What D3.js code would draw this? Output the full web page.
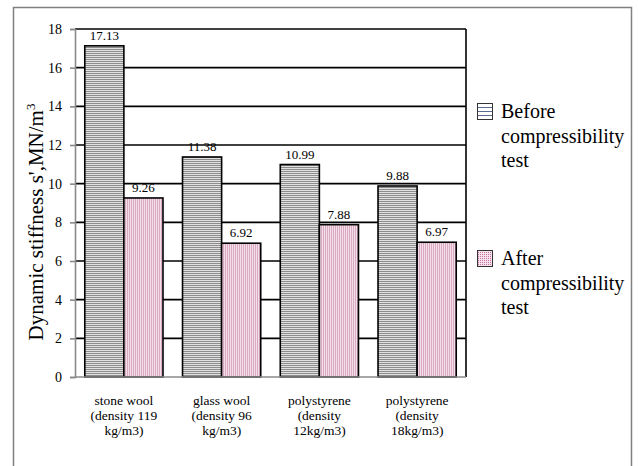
<!DOCTYPE html>
<html><head><meta charset="utf-8">
<script src="https://cdn.jsdelivr.net/npm/d3@7"></script>
<style>body{margin:0;background:#fff}svg{display:block}
svg text{font-family:"Liberation Serif","Times New Roman",Tinos,"DejaVu Serif",serif;}</style>
</head><body>
<script>
const categories = [
  ["stone wool", "(density 119", "kg/m3)"],
  ["glass wool", "(density 96", "kg/m3)"],
  ["polystyrene", "(density", "12kg/m3)"],
  ["polystyrene", "(density", "18kg/m3)"]
];
const beforeValues = [17.13, 11.38, 10.99, 9.88];
const afterValues = [9.26, 6.92, 7.88, 6.97];
const seriesNames = [["Before", "compressibility", "test"], ["After", "compressibility", "test"]];
const yTicks = [0, 2, 4, 6, 8, 10, 12, 14, 16, 18];

const W = 638, H = 466;
const svg = d3.select("body").append("svg").attr("width", W).attr("height", H);

const defs = svg.append("defs");
const p1 = defs.append("pattern").attr("id", "pBefore").attr("patternUnits", "userSpaceOnUse").attr("width", 4).attr("height", 2);
p1.append("rect").attr("width", 4).attr("height", 2).attr("fill", "#e2e2e2");
p1.append("rect").attr("y", 1).attr("width", 4).attr("height", 1).attr("fill", "#8c8c8c");
const p2 = defs.append("pattern").attr("id", "pAfter").attr("patternUnits", "userSpaceOnUse").attr("width", 2).attr("height", 4);
p2.append("rect").attr("width", 2).attr("height", 4).attr("fill", "#f3dfe9");
p2.append("rect").attr("x", 1).attr("width", 1).attr("height", 4).attr("fill", "#d9aac2");
const p3 = defs.append("pattern").attr("id", "lBefore").attr("patternUnits", "userSpaceOnUse").attr("width", 4).attr("height", 4);
p3.append("rect").attr("width", 4).attr("height", 4).attr("fill", "#ffffff");
p3.append("rect").attr("y", 3).attr("width", 4).attr("height", 1).attr("fill", "#5a6a90");
const p4 = defs.append("pattern").attr("id", "lAfter").attr("patternUnits", "userSpaceOnUse").attr("width", 2).attr("height", 2);
p4.append("rect").attr("width", 2).attr("height", 2).attr("fill", "#f6e2ec");
p4.append("rect").attr("width", 1).attr("height", 1).attr("fill", "#c9709c");

// outer frame (bottom edge lies outside the picture)
svg.append("path")
  .attr("d", d3.line()([[13.5, 466], [13.5, 7.5], [631.5, 7.5], [631.5, 466]]))
  .attr("fill", "none").attr("stroke", "#808080").attr("stroke-width", 1.5);

const plot = {left: 75, top: 29, right: 466, bottom: 377};
const x = d3.scaleBand().domain(d3.range(categories.length)).range([plot.left, plot.right]).paddingInner(0.2).paddingOuter(0.1);
const y = d3.scaleLinear().domain([0, 18]).range([plot.bottom, plot.top]);
const bw = x.bandwidth() / 2;

// gridlines
svg.append("g").selectAll("line").data(yTicks.filter(t => t > 0)).join("line")
  .attr("x1", plot.left).attr("x2", plot.right)
  .attr("y1", d => y(d)).attr("y2", d => y(d))
  .attr("stroke", "#000").attr("stroke-width", 1.6);
svg.append("line").attr("x1", plot.right).attr("x2", plot.right).attr("y1", plot.top).attr("y2", plot.bottom)
  .attr("stroke", "#000").attr("stroke-width", 1.6);

// bars
const series = [{vals: beforeValues, fill: "url(#pBefore)", off: 0}, {vals: afterValues, fill: "url(#pAfter)", off: 1}];
series.forEach(s => {
  svg.append("g").selectAll("rect").data(s.vals).join("rect")
    .attr("x", (d, i) => x(i) + s.off * bw)
    .attr("y", d => y(d))
    .attr("width", bw)
    .attr("height", d => y(0) - y(d))
    .attr("fill", s.fill).attr("stroke", "#000").attr("stroke-width", 1.6);
  svg.append("g").selectAll("text").data(s.vals).join("text")
    .attr("x", (d, i) => x(i) + s.off * bw + bw / 2)
    .attr("y", d => y(d) - 6)
    .attr("text-anchor", "middle")
    .attr("font-size", 13).attr("fill", "#000")
    .text(d => d.toFixed(2));
});

// y axis
const yAxis = svg.append("g").attr("transform", `translate(${plot.left},0)`)
  .call(d3.axisLeft(y).tickValues(yTicks).tickSize(5).tickPadding(8));
yAxis.attr("font-family", null);
yAxis.select(".domain").attr("stroke", "#8a8a8a").attr("stroke-width", 1.6);
yAxis.selectAll(".tick line").attr("stroke", "#8a8a8a").attr("stroke-width", 1.6);
yAxis.selectAll("text").attr("font-size", 14).attr("fill", "#000");

// x axis line
svg.append("line").attr("x1", plot.left).attr("x2", plot.right).attr("y1", plot.bottom).attr("y2", plot.bottom)
  .attr("stroke", "#8a8a8a").attr("stroke-width", 1.6);

// x labels
const xl = svg.append("g").selectAll("text").data(categories).join("text")
  .attr("x", (d, i) => x(i) + x.bandwidth() / 2)
  .attr("y", 405)
  .attr("text-anchor", "middle")
  .attr("font-size", 13.5).attr("fill", "#000");
xl.selectAll("tspan").data(d => d).join("tspan")
  .attr("x", function() { return d3.select(this.parentNode).attr("x"); })
  .attr("dy", (d, i) => i === 0 ? 0 : 15)
  .text(d => d);

// y title
const yt = svg.append("text")
  .attr("transform", "translate(43,222) rotate(-90)")
  .attr("text-anchor", "middle")
  .attr("font-size", 21).attr("fill", "#000");
yt.append("tspan").text("Dynamic  stiffness s',MN/m");
yt.append("tspan").attr("font-size", 13).attr("dy", -8).text("3");

// legend
const legendY = [103, 250];
const legendFill = ["url(#lBefore)", "url(#lAfter)"];
seriesNames.forEach((lines, k) => {
  const g = svg.append("g");
  g.append("rect").attr("x", 477.5).attr("y", legendY[k] + 0.5).attr("width", 15).attr("height", 16)
    .attr("fill", legendFill[k]).attr("stroke", "#333").attr("stroke-width", 1);
  const t = g.append("text").attr("font-size", 20).attr("fill", "#000");
  t.selectAll("tspan").data(lines).join("tspan")
    .attr("x", 501).attr("y", (d, i) => legendY[k] + 15 + i * 24.5)
    .text(d => d);
});
</script>
</body></html>
